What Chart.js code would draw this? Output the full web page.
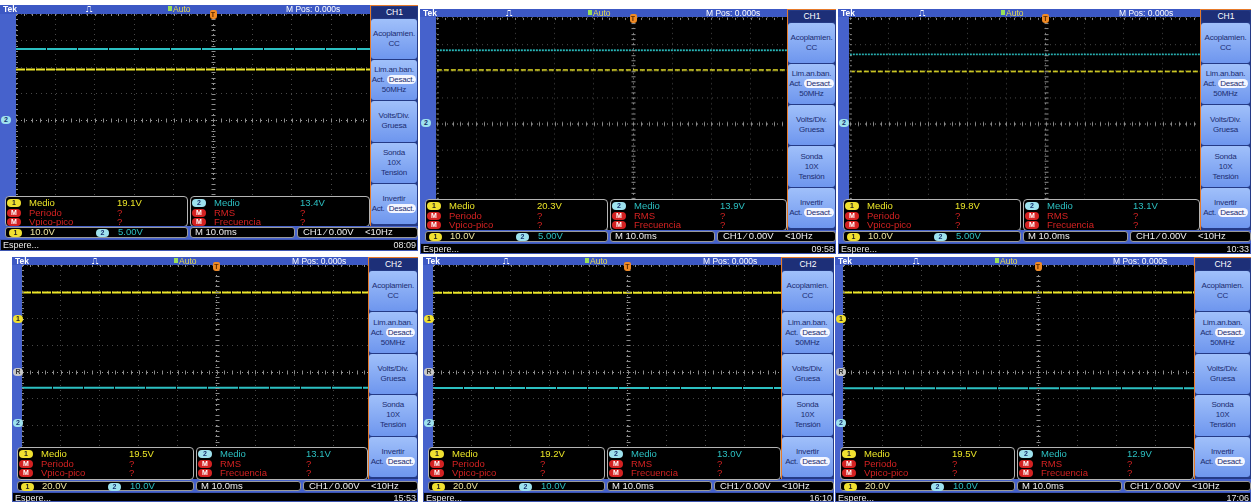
<!DOCTYPE html>
<html><head><meta charset="utf-8">
<script src="https://cdn.jsdelivr.net/npm/chart.js@4"></script>
<style>
html,body{margin:0;padding:0;background:#fff;}
body{width:1251px;height:502px;overflow:hidden;position:relative;font-family:"Liberation Sans",Arial,sans-serif;}
.a{position:absolute;box-sizing:border-box;white-space:nowrap;}
.btn{position:absolute;box-sizing:border-box;border-radius:3px;background:linear-gradient(#a0c0fa,#6e96ee);color:#1b2c70;font-size:8px;line-height:10px;text-align:center;display:flex;flex-direction:column;justify-content:center;letter-spacing:-0.2px;}
.des{display:inline-block;background:#f4f6ff;border-radius:5px;padding:0 2px;line-height:9px;}
</style></head><body>
<script>
// ---- data read from the six oscilloscope screens ----
const clockTimes   = ['08:09','09:58','10:33','15:53','16:10','17:06'];
const ch1Mean      = [19.1, 20.3, 19.8, 19.5, 19.2, 19.5];   // V
const ch2Mean      = [13.4, 13.9, 13.1, 13.1, 13.0, 12.9];   // V
const ch1VoltsDiv  = [10, 10, 10, 20, 20, 20];
const ch2VoltsDiv  = [5, 5, 5, 10, 10, 10];
const ch1ScaleText = ['10.0V','10.0V','10.0V','20.0V','20.0V','20.0V'];
const ch2ScaleText = ['5.00V','5.00V','5.00V','10.0V','10.0V','10.0V'];
const ch1PosDiv    = [0, 0, 0, 2, 2, 2];
const ch2PosDiv    = [0, 0, 0, -1.9, -1.9, -1.9];
const menuChannel  = ['CH1','CH1','CH1','CH2','CH2','CH2'];
const timeTicksMs  = [-50,-40,-30,-20,-10,0,10,20,30,40,50];
const divTicks     = [-4,-3,-2,-1,0,1,2,3,4];
const ch1Meas      = ['Medio','Periodo','Vpico-pico'];
const ch2Meas      = ['Medio','RMS','Frecuencia'];
const timeBaseText = 'M 10.0ms';
const triggerText  = 'CH1 \u2044 0.00V';
const trigFreqText = '<10Hz';

// ---- screen geometry (layout only) ----
const layout = [
 {x0:0,  T:5,  gridL:16, gridT:14, divW:39.4, divH:26.5,  menuL:370, right:418, measT:196, setT:227, statT:239, bot:251},
 {x0:420,T:9,  gridL:436,gridT:17, divW:39.4, divH:26.6,  menuL:787, right:836, measT:199, setT:231, statT:243, bot:254},
 {x0:838,T:9,  gridL:849,gridT:17, divW:39.3, divH:26.6,  menuL:1200,right:1251,measT:199, setT:231, statT:243, bot:254},
 {x0:12, T:257,gridL:22, gridT:265,divW:38.9, divH:26.75, menuL:368, right:418, measT:447, setT:481, statT:492, bot:502},
 {x0:423,T:257,gridL:433,gridT:265,divW:38.9, divH:26.75, menuL:781, right:834, measT:447, setT:481, statT:492, bot:502},
 {x0:835,T:257,gridL:843,gridT:265,divW:39.0, divH:26.75, menuL:1194,right:1251,measT:447, setT:481, statT:492, bot:502}
];
const C1='#ece628', C2='#2cc0c2', RED='#d42222', BLUE='#4662cc', HEAD='#3c58c4';

function box(l,t,w,h,style,text,cls){
  const d=document.createElement('div');
  d.className='a'+(cls?' '+cls:'');
  Object.assign(d.style,{left:l+'px',top:t+'px',width:w+'px',height:h+'px'},style||{});
  if(text!=null) d.textContent=text;
  document.body.appendChild(d); return d;
}
function pill(l,t,w,bg,fg,text){
  return box(l,t,w,8,{background:bg,color:fg,borderRadius:'4px',fontSize:'7px',lineHeight:'8px',textAlign:'center',fontWeight:'bold'},text);
}
function label(l,t,text,color,size,extra){
  return box(l,t,null,null,Object.assign({color:color,fontSize:(size||9)+'px',lineHeight:'10px',width:'auto',height:'auto'},extra||{}),text);
}

const scopeTicks={id:'scopeTicks',afterDraw(chart){
  const {ctx,scales:{x,y}}=chart;
  ctx.save();ctx.strokeStyle='#8c8c8c';ctx.lineWidth=1;ctx.beginPath();
  const cy=Math.round(y.getPixelForValue(0))+0.5, cx=Math.round(x.getPixelForValue(0))+0.5;
  for(let i=-25;i<=25;i++){const px=Math.round(x.getPixelForValue(i*2))+0.5;
    ctx.moveTo(px,cy-2);ctx.lineTo(px,cy+2);
    ctx.moveTo(px,y.top);ctx.lineTo(px,y.top+2);}
  for(let i=-20;i<=20;i++){const py=Math.round(y.getPixelForValue(i/5))+0.5;
    ctx.moveTo(cx-2,py);ctx.lineTo(cx+2,py);
    ctx.moveTo(x.left,py);ctx.lineTo(x.left+2,py);}
  ctx.stroke();ctx.restore();
}};

layout.forEach((g,i)=>{
  const gridW=10*g.divW, gridH=8*g.divH, gridB=g.gridT+gridH;
  const cx=g.gridL+5*g.divW, cy=g.gridT+4*g.divH;
  // panel frame
  box(g.x0,g.T,g.right-g.x0,g.statT-g.T,{background:BLUE});
  // chart canvas
  const wrap=box(g.gridL,g.gridT,gridW,gridH,{background:'#000'});
  const cv=document.createElement('canvas'); wrap.appendChild(cv);
  const lvl1=ch1Mean[i]/ch1VoltsDiv[i]+ch1PosDiv[i];
  const lvl2=ch2Mean[i]/ch2VoltsDiv[i]+ch2PosDiv[i];
  const noisy=(i===1||i===2);
  const x0v=timeTicksMs[0], x1v=timeTicksMs[timeTicksMs.length-1];
  new Chart(cv,{type:'line',
    data:{datasets:[
      {data:[{x:x0v,y:lvl2},{x:x1v,y:lvl2}],borderColor:C2,borderWidth:noisy?1.7:2,borderDash:noisy?[2,1]:[30,1],pointRadius:0},
      {data:[{x:x0v,y:lvl1},{x:x1v,y:lvl1}],borderColor:C1,borderWidth:noisy?1.5:2,borderDash:noisy?[5,2]:[9,1],pointRadius:0}
    ]},
    options:{animation:false,responsive:true,maintainAspectRatio:false,layout:{padding:0},
      plugins:{legend:{display:false},tooltip:{enabled:false}},
      scales:{
        x:{type:'linear',min:x0v,max:x1v,afterBuildTicks:s=>{s.ticks=timeTicksMs.map(v=>({value:v}));},
           ticks:{display:false},grid:{drawTicks:false,color:c=>c.tick&&c.tick.value===0?'#9a9a9a':'#484848'},border:{display:false,dash:[1,4]}},
        y:{type:'linear',min:divTicks[0],max:divTicks[divTicks.length-1],afterBuildTicks:s=>{s.ticks=divTicks.map(v=>({value:v}));},
           ticks:{display:false},grid:{drawTicks:false,color:c=>c.tick&&c.tick.value===0?'#9a9a9a':'#484848'},border:{display:false,dash:[1,4]}}
      }},
    plugins:[scopeTicks]});
  // header bar
  box(g.x0,g.T,g.menuL-g.x0,g.gridT-g.T,{background:HEAD});
  const hy=g.T-1;
  label(g.x0+3,hy,'Tek','#fff',8.5,{fontWeight:'bold'});
  label(g.gridL+70,hy,'\u238D','#fff',8.5);
  box(g.gridL+152,hy+2,4,5,{background:'#9adf5a'});
  label(g.gridL+157,hy,'Auto','#e6dc50',8.5);
  label(g.gridL+270,hy,'M Pos: 0.000s','#fff',8.5);
  // trigger marker
  box(cx-3.5,g.T+5,7,9,{background:'#f08a24',borderRadius:'2px 2px 3px 3px',color:'#5a2a00',fontSize:'7px',lineHeight:'9px',textAlign:'center',fontWeight:'bold'},'T');
  // ground markers
  if(ch1PosDiv[i]!==ch2PosDiv[i]){
    pill(g.x0+1,cy-ch1PosDiv[i]*g.divH-4,10,'#f0e030','#222','1');
    pill(g.x0+1,cy-4,10,'#c8c8c8','#333','R');
  }
  pill(g.x0+1,cy-ch2PosDiv[i]*g.divH-4,10,'#9ee2ee','#16306e','2');
  // measurement area
  const b1L=g.x0+5, b1R=g.gridL+172, b2L=g.gridL+174, b2R=g.menuL;
  [[b1L,b1R,'1','#f0e030','#222',C1,ch1Meas,ch1Mean[i]],[b2L,b2R,'2','#9ee2ee','#16306e',C2,ch2Meas,ch2Mean[i]]].forEach(([L,R,n,pb,pf,col,names,val],k)=>{
    box(L,g.measT,R-L,gridB-g.measT+1,{background:'#000',border:'1px solid #b4b4b4',borderRadius:'4px'});
    const rows=[g.measT+2,g.measT+11.5,g.measT+21];
    names.forEach((nm,r)=>{
      const y=rows[r];
      if(r===0){pill(L+2,y+1,14,pb,pf,n);}else{pill(L+2,y+1,14,RED,'#fff','M');}
      label(L+24,y,nm,r===0?col:RED,9.5);
      label(L+(k===0?112:110),y,r===0?val.toFixed(1)+'V':'?',r===0?col:RED,9.5);
    });
  });
  // side menu
  const mH=gridB-g.T, mW=g.right-g.menuL;
  box(g.menuL,g.T,mW,mH,{background:'#243a86',borderLeft:'1px solid #e67a2a',borderTop:'1px solid #e67a2a'});
  box(g.menuL+2,g.T+2,mW-3,11,{background:'#1d2f78',color:'#fff',fontSize:'8.5px',lineHeight:'11px',textAlign:'center',borderRadius:'2px'},menuChannel[i]);
  const bt=g.T+14, bh=(mH-15)/5;
  const btns=[['Acoplamien.','CC'],['Lim.an.ban.','#Act.','50MHz'],['Volts/Div.','Gruesa'],['Sonda','10X','Tensión'],['Invertir','#Act.']];
  btns.forEach((lines,k)=>{
    const b=box(g.menuL+1,bt+k*bh,mW-2,bh-1,{},null,'btn');
    lines.forEach(t=>{
      const ln=document.createElement('div');
      if(t==='#Act.'){ln.appendChild(document.createTextNode('Act. '));const s=document.createElement('span');s.className='des';s.textContent='Desact.';ln.appendChild(s);}
      else ln.textContent=t;
      b.appendChild(ln);
    });
  });
  // settings bar
  box(g.x0,g.setT-1,g.right-g.x0,g.statT-g.setT+1,{background:BLUE});
  const sh=g.statT-g.setT-1;
  box(g.x0+5,g.setT,b1R-g.x0-5,sh,{background:'#000',border:'1px solid #9a9a9a',borderRadius:'3px'});
  pill(g.x0+9,g.setT+1.5,13,'#f0e030','#222','1');
  label(g.x0+30,g.setT,ch1ScaleText[i],'#efe6a0',9.5);
  pill(g.x0+96,g.setT+1.5,13,'#9ee2ee','#16306e','2');
  label(g.x0+118,g.setT,ch2ScaleText[i],C2,9.5);
  box(b2L,g.setT,g.gridL+279-b2L,sh,{background:'#000',border:'1px solid #9a9a9a',borderRadius:'3px'});
  label(b2L+5,g.setT,timeBaseText,'#f0f0f0',9.5);
  box(g.gridL+281,g.setT,g.right-g.gridL-281,sh,{background:'#000',border:'1px solid #9a9a9a',borderRadius:'3px'});
  label(g.gridL+287,g.setT,triggerText,'#f0f0f0',9.5);
  label(g.gridL+349,g.setT,trigFreqText,'#f0f0f0',9.5);
  // status bar
  box(g.x0,g.statT,g.right-g.x0,g.bot-g.statT,{background:'#000',border:'1px solid #3d55b0'});
  label(g.x0+3,g.statT+1,'Espere...','#e8e8e8',9);
  box(g.right-30,g.statT+1,28,10,{color:'#e8e8e8',fontSize:'9px',lineHeight:'10px',textAlign:'right'},clockTimes[i]);
});
</script>
</body></html>
